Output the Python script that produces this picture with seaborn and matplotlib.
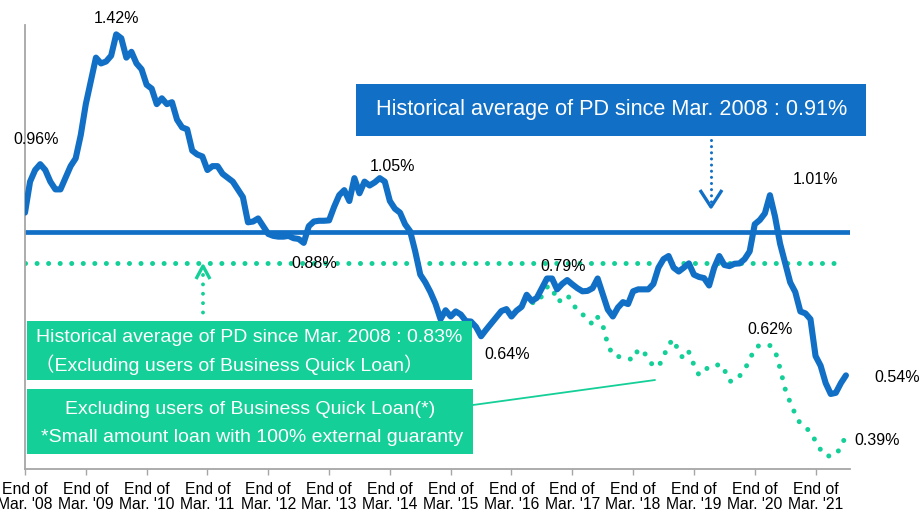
import numpy as np
import pandas as pd
import matplotlib
matplotlib.use("Agg")
import matplotlib.pyplot as plt
from matplotlib.transforms import Affine2D
from matplotlib.patches import Rectangle
from matplotlib.lines import Line2D
import seaborn as sns

# ---------------- data ----------------
blue_pd = [
    0.96, 1.04, 1.07, 1.085, 1.07, 1.04, 1.02, 1.02, 1.05, 1.08,
    1.10, 1.16, 1.24, 1.30, 1.36, 1.345, 1.35, 1.365, 1.42, 1.41,
    1.36, 1.375, 1.345, 1.33, 1.29, 1.28, 1.24, 1.255, 1.24, 1.245,
    1.20, 1.18, 1.175, 1.12, 1.11, 1.105, 1.07, 1.08, 1.08, 1.06,
    1.05, 1.04, 1.02, 1.00, 0.935, 0.937, 0.945, 0.925, 0.905, 0.90,
    0.898, 0.898, 0.90, 0.894, 0.892, 0.882, 0.925, 0.937, 0.939, 0.939,
    0.940, 0.975, 1.005, 1.018, 0.99, 1.049, 1.01, 1.04, 1.03, 1.038,
    1.049, 1.04, 0.99, 0.97, 0.96, 0.93, 0.912, 0.86, 0.80, 0.78,
    0.755, 0.725, 0.685, 0.708, 0.692, 0.705, 0.697, 0.68, 0.679, 0.665,
    0.641, 0.658, 0.674, 0.69, 0.706, 0.711, 0.692, 0.707, 0.717, 0.748,
    0.732, 0.74, 0.765, 0.79, 0.79, 0.762, 0.776, 0.786, 0.775, 0.765,
    0.757, 0.758, 0.765, 0.79, 0.75, 0.71, 0.692, 0.715, 0.729, 0.724,
    0.757, 0.762, 0.762, 0.762, 0.776, 0.818, 0.84, 0.848, 0.818, 0.808,
    0.818, 0.829, 0.80, 0.794, 0.791, 0.772, 0.818, 0.848, 0.825, 0.822,
    0.828, 0.829, 0.84, 0.86, 0.93, 0.941, 0.958, 1.005, 0.95, 0.88,
    0.83, 0.78, 0.755, 0.705, 0.70, 0.685, 0.59, 0.565, 0.52, 0.492,
    0.495, 0.52, 0.54,
]
green_start = 96
green_pd = [
    0.692, 0.707, 0.717, 0.745, 0.728, 0.726, 0.745, 0.768, 0.769, 0.73,
    0.735, 0.747, 0.73, 0.705, 0.697, 0.69, 0.67, 0.69, 0.67, 0.62,
    0.592, 0.589, 0.586, 0.584, 0.58, 0.607, 0.604, 0.58, 0.565, 0.562,
    0.588, 0.62, 0.633, 0.60, 0.582, 0.60, 0.567, 0.541, 0.555, 0.56,
    0.56, 0.57, 0.555, 0.525, 0.525, 0.538, 0.555, 0.58, 0.61, 0.618,
    0.618, 0.617, 0.605, 0.558, 0.505, 0.47, 0.44, 0.415, 0.405, 0.395,
    0.37, 0.348, 0.332, 0.332, 0.335, 0.355, 0.385,
]
avg_all = 0.91
avg_excl = 0.83
tick_years = ["'08", "'09", "'10", "'11", "'12", "'13", "'14", "'15",
              "'16", "'17", "'18", "'19", "'20", "'21"]
tick_labels = [f"End of\nMar. {y}" for y in tick_years]

# value labels: (text, series, month index, dx px, dy px)
value_labels = [
    ("0.96%", "blue", 0, 11, 73),
    ("1.42%", "blue", 18, 0, 16),
    ("0.88%", "blue", 55, 11, -21),
    ("1.05%", "blue", 70, 13, 12),
    ("0.64%", "blue", 90, 26, -18),
    ("0.79%", "blue", 103, 16, 12),
    ("1.01%", "blue", 147, 46, 16),
    ("0.54%", "blue", 162, 51, -2),
    ("0.62%", "green", 146, 5, 16),
    ("0.39%", "green", 162, 31, -5),
]

BLUE = "#1170C6"
GREEN = "#14CF98"

blue_df = pd.DataFrame({"month": np.arange(len(blue_pd)), "pd": blue_pd})
green_df = pd.DataFrame({"month": np.arange(green_start, green_start + len(green_pd)),
                         "pd": green_pd})

# ---------------- figure ----------------
sns.set_style("white")
plt.rcParams["font.family"] = ["Liberation Sans", "DejaVu Sans"]

W, H = 924, 512
fig = plt.figure(figsize=(W / 100, H / 100), dpi=100)
ax = fig.add_axes([25 / W, 43 / H, 825 / W, 444 / H])

PX = Affine2D().scale(1, -1).translate(0, H)  # pixel coords, origin top-left

# average lines
ax.axhline(avg_all, color=BLUE, lw=3.4, zorder=2)
ax.axhline(avg_excl, color=GREEN, lw=3.6, linestyle=(0, (0.01, 2.3)),
           dash_capstyle="round", xmax=0.99, zorder=2)

# series
sns.lineplot(data=green_df, x="month", y="pd", ax=ax, color=GREEN, lw=3.6,
             linestyle=(0, (0.01, 2.35)), dash_capstyle="round", zorder=3)
sns.lineplot(data=blue_df, x="month", y="pd", ax=ax, color=BLUE, lw=4.4,
             solid_joinstyle="round", solid_capstyle="round", zorder=4)

ax.set_xlim(0, 162.8)
ax.set_ylim(0.2984, 1.4442)
ax.set_xlabel("")
ax.set_ylabel("")
ax.set_yticks([])
ax.set_xticks(np.arange(0, 12 * len(tick_labels), 12))
ax.set_xticklabels(tick_labels, fontsize=11.3, linespacing=1.05)
ax.tick_params(axis="x", direction="out", length=4, width=1, color="#A6A6A6",
               pad=5, labelcolor="black", bottom=True)
for s in ["top", "right"]:
    ax.spines[s].set_visible(False)
for s in ["left", "bottom"]:
    ax.spines[s].set_color("#A6A6A6")
    ax.spines[s].set_linewidth(1.3)

# value labels
for txt, ser, idx, dx, dy in value_labels:
    if ser == "blue":
        val = blue_pd[idx]
    else:
        val = green_pd[idx - green_start]
    ax.annotate(txt, xy=(idx, val), xytext=(dx, dy), textcoords="offset pixels",
                ha="center", va="center", fontsize=11.5, color="black", zorder=6)

# ---------------- annotation boxes ----------------
BOXFONT = ["Liberation Sans", "Noto Sans CJK JP", "DejaVu Sans"]

def box(x0, y0, x1, y1, color):
    fig.add_artist(Rectangle((x0, y1), x1 - x0, y0 - y1, transform=PX,
                             facecolor=color, edgecolor="none", zorder=5))

def ptext(x, y, s, size, color="white", family=BOXFONT):
    fig.text(x, y, s, transform=PX, ha="center", va="center", fontsize=size,
             color=color, family=family, zorder=6)

def pline(xs, ys, color, lw, ls="-", cap="round"):
    ln = Line2D(xs, ys, transform=PX, color=color, lw=lw, linestyle=ls,
                solid_capstyle=cap, dash_capstyle=cap, zorder=5)
    fig.add_artist(ln)

# blue box
box(356, 84, 866, 136, BLUE)
ptext(612, 110, "Historical average of PD since Mar. 2008 : 0.91%", 15.6)
# blue dotted arrow
pline([711, 711], [140, 203], BLUE, 2.2, ls=(0, (0.01, 2.0)))
pline([700, 711, 722], [190, 207, 190], BLUE, 2.4, cap="butt")

# green box 1
box(27, 321, 472, 380, GREEN)
ptext(249, 338, "Historical average of PD since Mar. 2008 : 0.83%", 14.0)
ptext(229, 365, "（Excluding users of Business Quick Loan）", 14.0)
# green dotted arrow
pline([203, 203], [275, 318], GREEN, 2.8, ls=(0, (0.01, 2.4)))
pline([196, 203, 210], [279, 266, 279], GREEN, 2.4, cap="butt")

# green box 2
box(27, 389, 473, 454, GREEN)
ptext(250, 410, "Excluding users of Business Quick Loan(*)", 14.0)
ptext(252, 438, "*Small amount loan with 100% external guaranty", 14.0)
# connector
pline([473, 655], [405, 380], GREEN, 1.3)

fig.savefig("out.png", dpi=100)
